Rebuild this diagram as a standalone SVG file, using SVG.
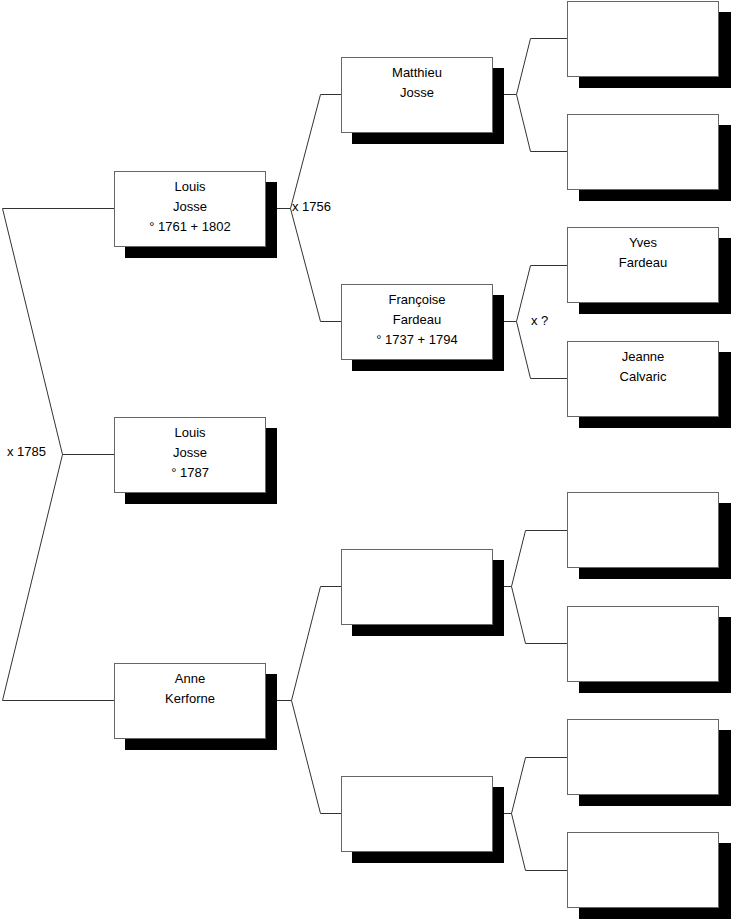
<svg xmlns="http://www.w3.org/2000/svg" width="731" height="920" viewBox="0 0 731 920">
<style>
.c{fill:none;stroke:#333;stroke-width:1}
.s{fill:#000}
.b{fill:#fff;stroke:#666;stroke-width:1}
.t{font-family:"Liberation Sans",Arial,sans-serif;font-size:13px;fill:#000}
.m{text-anchor:middle}
</style>
<rect width="731" height="920" fill="#fff"/>
<g id="connectors">
<polyline class="c" points="114,208.5 2.5,208.5 62.5,454.5 2.5,700.5 114,700.5"/>
<polyline class="c" points="62.5,454.5 114,454.5"/>
<polyline class="c" points="266,208.5 290.5,208.5"/>
<polyline class="c" points="341,94.5 320.5,94.5 290.5,208.5 320.5,321.5 341,321.5"/>
<polyline class="c" points="492,94.5 516.5,94.5"/>
<polyline class="c" points="568,38.5 530.5,38.5 516.5,94.5 530.5,151.5 568,151.5"/>
<polyline class="c" points="492,321.5 516.5,321.5"/>
<polyline class="c" points="568,265.5 530.5,265.5 516.5,321.5 530.5,378.5 568,378.5"/>
<polyline class="c" points="265,700.5 291.5,700.5"/>
<polyline class="c" points="341,586.5 320.5,586.5 291.5,700.5 320.5,813.5 341,813.5"/>
<polyline class="c" points="492,586.5 511.5,586.5"/>
<polyline class="c" points="568,530.5 525.5,530.5 511.5,586.5 525.5,643.5 568,643.5"/>
<polyline class="c" points="492,813.5 511.5,813.5"/>
<polyline class="c" points="568,757.5 525.5,757.5 511.5,813.5 525.5,870.5 568,870.5"/>
</g>
<g id="labels">
<text class="t" x="7" y="456">x 1785</text>
<text class="t" x="292" y="211">x 1756</text>
<text class="t" x="531" y="325">x ?</text>
</g>
<g id="n1">
<rect class="s" x="125" y="182" width="152" height="76"/>
<rect class="b" x="114.5" y="171.5" width="151" height="75"/>
<text class="t m" x="190" y="191">Louis</text>
<text class="t m" x="190" y="211">Josse</text>
<text class="t m" x="190" y="231">° 1761 + 1802</text>
</g>
<g id="n0">
<rect class="s" x="125" y="428" width="152" height="76"/>
<rect class="b" x="114.5" y="417.5" width="151" height="75"/>
<text class="t m" x="190" y="437">Louis</text>
<text class="t m" x="190" y="457">Josse</text>
<text class="t m" x="190" y="477">° 1787</text>
</g>
<g id="n2">
<rect class="s" x="125" y="674" width="152" height="76"/>
<rect class="b" x="114.5" y="663.5" width="151" height="75"/>
<text class="t m" x="190" y="683">Anne</text>
<text class="t m" x="190" y="703">Kerforne</text>
</g>
<g id="n3">
<rect class="s" x="352" y="68" width="152" height="76"/>
<rect class="b" x="341.5" y="57.5" width="151" height="75"/>
<text class="t m" x="417" y="77">Matthieu</text>
<text class="t m" x="417" y="97">Josse</text>
</g>
<g id="n4">
<rect class="s" x="352" y="295" width="152" height="76"/>
<rect class="b" x="341.5" y="284.5" width="151" height="75"/>
<text class="t m" x="417" y="304">Françoise</text>
<text class="t m" x="417" y="324">Fardeau</text>
<text class="t m" x="417" y="344">° 1737 + 1794</text>
</g>
<g id="n5">
<rect class="s" x="352" y="560" width="152" height="76"/>
<rect class="b" x="341.5" y="549.5" width="151" height="75"/>
</g>
<g id="n6">
<rect class="s" x="352" y="787" width="152" height="76"/>
<rect class="b" x="341.5" y="776.5" width="151" height="75"/>
</g>
<g id="n7">
<rect class="s" x="579" y="12" width="152" height="76"/>
<rect class="b" x="567.5" y="1.5" width="151" height="75"/>
</g>
<g id="n8">
<rect class="s" x="579" y="125" width="152" height="76"/>
<rect class="b" x="567.5" y="114.5" width="151" height="75"/>
</g>
<g id="n9">
<rect class="s" x="579" y="238" width="152" height="76"/>
<rect class="b" x="567.5" y="227.5" width="151" height="75"/>
<text class="t m" x="643" y="247">Yves</text>
<text class="t m" x="643" y="267">Fardeau</text>
</g>
<g id="n10">
<rect class="s" x="579" y="352" width="152" height="76"/>
<rect class="b" x="567.5" y="341.5" width="151" height="75"/>
<text class="t m" x="643" y="361">Jeanne</text>
<text class="t m" x="643" y="381">Calvaric</text>
</g>
<g id="n11">
<rect class="s" x="579" y="503" width="152" height="76"/>
<rect class="b" x="567.5" y="492.5" width="151" height="75"/>
</g>
<g id="n12">
<rect class="s" x="579" y="617" width="152" height="76"/>
<rect class="b" x="567.5" y="606.5" width="151" height="75"/>
</g>
<g id="n13">
<rect class="s" x="579" y="730" width="152" height="76"/>
<rect class="b" x="567.5" y="719.5" width="151" height="75"/>
</g>
<g id="n14">
<rect class="s" x="579" y="843" width="152" height="76"/>
<rect class="b" x="567.5" y="832.5" width="151" height="75"/>
</g>
</svg>
